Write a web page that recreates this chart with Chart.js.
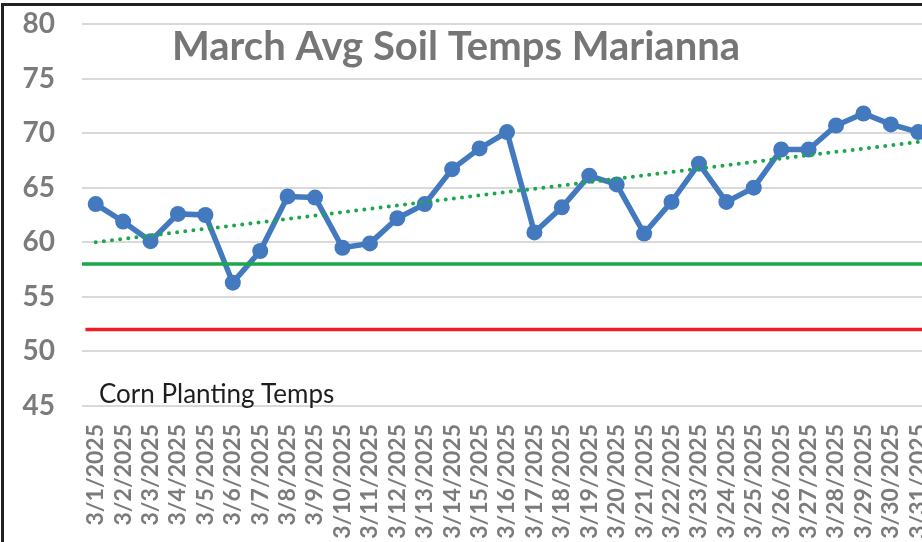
<!DOCTYPE html>
<html>
<head>
<meta charset="utf-8">
<script src="https://cdn.jsdelivr.net/npm/chart.js@4.4.1/dist/chart.umd.min.js"></script>
<style>
  html, body { margin: 0; padding: 0; background: #fff; overflow: hidden; }
  #frame {
    position: absolute; left: 1px; top: 3px;
    border-left: 3px solid #222; border-top: 3px solid #222;
  }
  canvas { display: block; }
</style>
</head>
<body>
<div id="frame"><canvas id="soilChart" width="940" height="600"></canvas></div>
<script>
// --- data ---
const days = [
  '3/1/2025', '3/2/2025', '3/3/2025', '3/4/2025', '3/5/2025', '3/6/2025', '3/7/2025',
  '3/8/2025', '3/9/2025', '3/10/2025', '3/11/2025', '3/12/2025', '3/13/2025', '3/14/2025',
  '3/15/2025', '3/16/2025', '3/17/2025', '3/18/2025', '3/19/2025', '3/20/2025', '3/21/2025',
  '3/22/2025', '3/23/2025', '3/24/2025', '3/25/2025', '3/26/2025', '3/27/2025', '3/28/2025',
  '3/29/2025', '3/30/2025', '3/31/2025'
];
const soilTemps = [
  63.5, 61.9, 60.1, 62.6, 62.5, 56.3, 59.2, 64.2, 64.1, 59.5, 59.9, 62.2, 63.5, 66.7,
  68.6, 70.1, 60.9, 63.2, 66.1, 65.3, 60.8, 63.7, 67.2, 63.7, 65.0, 68.5, 68.5, 70.7,
  71.8, 70.8, 70.1
];
// trend line: only its two end values
const trendStart = 60.0;
const trendEnd = 69.2;
// corn planting thresholds
const goodTemp = 58;
const minTemp = 52;
const yTicks = [45, 50, 55, 60, 65, 70, 75, 80];

const titleText = 'March Avg Soil Temps Marianna';
const noteText = 'Corn Planting Temps';

const trendData = days.map(function (d, i) {
  if (i === 0) return trendStart;
  if (i === days.length - 1) return trendEnd;
  return null;
});

// title and note sit inside the plot, like in the Excel chart
const textPlugin = {
  id: 'insideText',
  afterDraw: function (chart) {
    const c = chart.ctx;
    c.save();
    c.fillStyle = '#767676';
    c.font = 'bold 40px Lato';
    c.textAlign = 'center';
    c.textBaseline = 'alphabetic';
    c.fillText(titleText, 452, 54);
    c.fillStyle = '#1e1e1e';
    c.font = '26px Lato';
    c.textAlign = 'left';
    c.fillText(noteText, 95, 397);
    c.restore();
  }
};

new Chart(document.getElementById('soilChart'), {
  type: 'line',
  data: {
    labels: days,
    datasets: [
      {
        label: 'Soil temp',
        data: soilTemps,
        borderColor: '#4379BF',
        backgroundColor: '#4379BF',
        borderWidth: 5.5,
        pointRadius: 8,
        pointBorderWidth: 0,
        pointBackgroundColor: '#4379BF',
        tension: 0,
        order: 3
      },
      {
        label: 'Trend',
        data: trendData,
        spanGaps: true,
        borderColor: '#1BA84A',
        borderWidth: 4,
        borderDash: [0, 8.2],
        borderCapStyle: 'round',
        pointRadius: 0,
        order: 1
      },
      {
        label: 'Good',
        xAxisID: 'x2',
        data: [{ x: 0, y: goodTemp }, { x: 1, y: goodTemp }],
        borderColor: '#1BA84A',
        borderWidth: 3.5,
        pointRadius: 0,
        order: 2
      },
      {
        label: 'Minimum',
        xAxisID: 'x2',
        data: [{ x: 0.004, y: minTemp }, { x: 1, y: minTemp }],
        borderColor: '#EE1C25',
        borderWidth: 3.5,
        pointRadius: 0,
        order: 2
      }
    ]
  },
  options: {
    responsive: false,
    animation: false,
    devicePixelRatio: 1,
    layout: { padding: { top: 18, right: 12, left: 0, bottom: 0 } },
    plugins: {
      legend: { display: false },
      tooltip: { enabled: false },
      title: { display: false }
    },
    scales: {
      x: {
        type: 'category',
        offset: true,
        grid: { display: false, drawTicks: false },
        border: { display: false },
        ticks: {
          autoSkip: false,
          maxRotation: 90,
          minRotation: 90,
          padding: 18,
          color: '#7b7b7b',
          font: { family: 'Lato', size: 23, weight: 'bold' }
        },
        afterFit: function (scale) {
          scale.height = 200;
          scale.paddingLeft = 0;
          scale.paddingRight = 0;
        }
      },
      x2: {
        type: 'linear',
        display: false,
        min: 0,
        max: 1
      },
      y: {
        min: 45,
        max: 80,
        afterBuildTicks: function (scale) {
          scale.ticks = yTicks.map(function (v) { return { value: v }; });
        },
        grid: { color: '#d9d9d9', lineWidth: 2, drawTicks: false },
        border: { display: false },
        ticks: {
          padding: 27,
          color: '#7b7b7b',
          font: { family: 'Lato', size: 28, weight: 'bold' }
        },
        afterFit: function (scale) {
          scale.width = 78;
          scale.paddingTop = 0;
          scale.paddingBottom = 0;
        }
      }
    }
  },
  plugins: [textPlugin]
});
</script>
</body>
</html>
